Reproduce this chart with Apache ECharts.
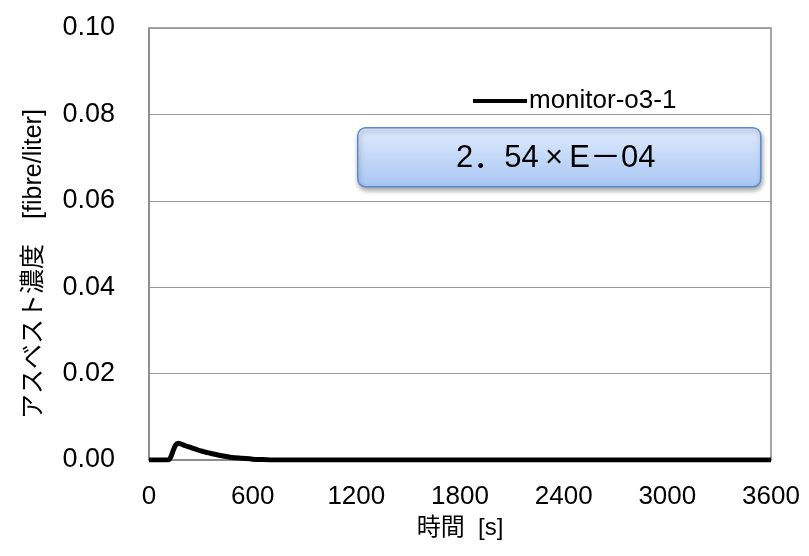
<!DOCTYPE html>
<html>
<head>
    <meta charset="utf-8">
    <script src="https://cdn.jsdelivr.net/npm/echarts@6/dist/echarts.min.js"></script>
    <style>
        body { margin: 0; padding: 0; background: #fff; }
        #chart { width: 809px; height: 556px; }
    </style>
</head>
<body>
    <div id="chart"></div>
    <script>
        // time [s] and concentration [fibre/liter]
        var times = [0, 60, 110, 125, 140, 155, 168, 185, 210, 240, 270, 300, 330, 360, 420, 480, 540, 600, 660, 720, 3600];
        var values = [0, 0, 0, 0.0006, 0.0022, 0.0035, 0.0039, 0.0037, 0.0033, 0.0029, 0.0025, 0.0021, 0.0018, 0.0015, 0.001, 0.0006, 0.0004, 0.0002, 0.0001, 0, 0];
        var seriesName = 'monitor-o3-1';
        var boxText = '2．54\u2009×\u2009E－04';
        var yName = 'アスベスト濃度　[fibre/liter]';
        var xName = '時間  [s]';

        var chart = echarts.init(document.getElementById('chart'));
        var font = 'Liberation Sans, Arial, sans-serif';
        var mixFont = 'Liberation Sans, Noto Sans CJK JP, sans-serif';
        chart.setOption({
            animation: false,
            grid: { left: 149, right: 38, top: 28, bottom: 96, show: true, borderColor: '#888', borderWidth: 1.5 },
            legend: {
                left: 468, top: 83,
                icon: 'rect', itemWidth: 54, itemHeight: 4, itemGap: 4,
                textStyle: { fontSize: 26, color: '#000', fontFamily: font, padding: [0, 0, 0, -3] },
                data: [seriesName]
            },
            xAxis: {
                type: 'value', min: 0, max: 3600, interval: 600,
                name: xName, nameLocation: 'middle', nameGap: 56,
                nameTextStyle: { fontSize: 24, color: '#000', fontFamily: mixFont },
                axisLine: { lineStyle: { color: '#888', width: 1.5 } },
                axisTick: { show: false },
                axisLabel: {
                    fontSize: 26, color: '#000', fontFamily: font, margin: 24,
                    formatter: function (v) { return String(v); }
                },
                splitLine: { show: false }
            },
            yAxis: {
                type: 'value', min: 0, max: 0.1, interval: 0.02,
                axisLine: { show: true, lineStyle: { color: '#888', width: 1.5 } },
                axisTick: { show: false },
                axisLabel: {
                    fontSize: 27, color: '#000', fontFamily: font, margin: 34,
                    formatter: function (v) { return v.toFixed(2); }
                },
                splitLine: { lineStyle: { color: '#999', width: 1.2 } }
            },
            series: [{
                name: seriesName,
                type: 'line',
                data: times.map(function (t, i) { return [t, values[i]]; }),
                showSymbol: false,
                smooth: 0.3,
                lineStyle: { color: '#000', width: 5 },
                itemStyle: { color: '#000' }
            }],
            graphic: [{
                type: 'text',
                x: 34, y: 264, rotation: Math.PI / 2,
                style: {
                    text: yName, fontSize: 25, fill: '#000', fontFamily: mixFont,
                    align: 'center', verticalAlign: 'middle'
                }
            }, {
                type: 'group',
                left: 357, top: 127,
                children: [{
                    type: 'rect',
                    shape: { x: 0, y: 0, width: 403, height: 59, r: 8 },
                    style: {
                        fill: new echarts.graphic.LinearGradient(0, 0, 0, 1, [
                            { offset: 0, color: '#e0ebfc' },
                            { offset: 1, color: '#a8c6f4' }
                        ]),
                        stroke: '#5a8ccf', lineWidth: 1.5,
                        shadowBlur: 5, shadowOffsetX: 1, shadowOffsetY: 3, shadowColor: 'rgba(0,0,0,0.35)'
                    }
                }, {
                    type: 'text',
                    x: 198, y: 31,
                    style: {
                        text: boxText, fontSize: 31, fill: '#000',
                        fontFamily: mixFont, align: 'center', verticalAlign: 'middle'
                    }
                }]
            }]
        });
    </script>
</body>
</html>
